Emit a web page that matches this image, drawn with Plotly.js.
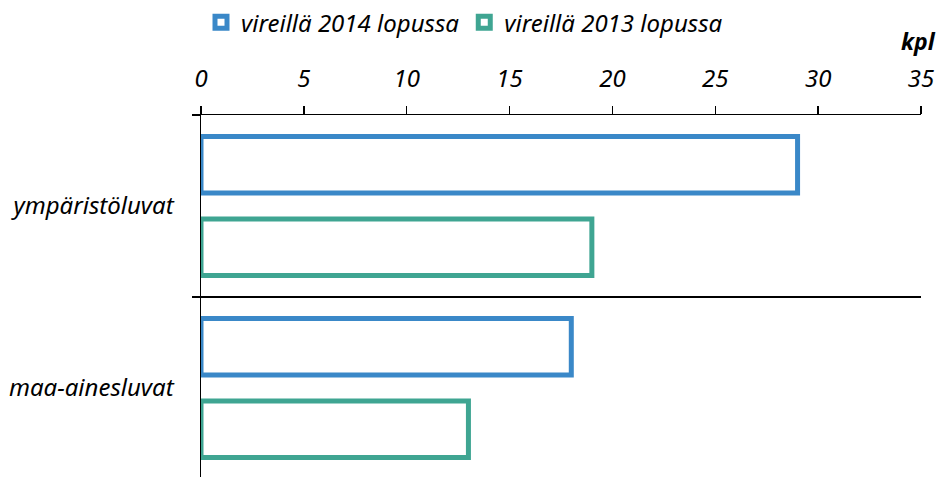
<!DOCTYPE html>
<html>
<head>
<meta charset="utf-8">
<script src="https://cdn.plot.ly/plotly-3.0.1.min.js"></script>
<style>html,body{margin:0;padding:0;background:#fff;}#chart{width:941px;height:477px;}</style>
</head>
<body>
<div id="chart"></div>
<script>
const categories = ['ympäristöluvat', 'maa-ainesluvat'];
const seriesNames = ['vireillä 2014 lopussa', 'vireillä 2013 lopussa'];
const values2014 = [29, 18];
const values2013 = [19, 13];
const tickValues = [0, 5, 10, 15, 20, 25, 30, 35];
const unitLabel = 'kpl';

const FONT = '"Noto Sans", "Open Sans", sans-serif';
const BLUE = '#3A88C8';
const TEAL = '#3FA592';
const FS = 24;

const traces = [
  {
    type: 'bar', orientation: 'h', name: seriesNames[0],
    y: categories, x: values2014,
    marker: { color: '#ffffff', line: { color: BLUE, width: 5 } },
    hoverinfo: 'x+y'
  },
  {
    type: 'bar', orientation: 'h', name: seriesNames[1],
    y: categories, x: values2013,
    marker: { color: '#ffffff', line: { color: TEAL, width: 5 } },
    hoverinfo: 'x+y'
  }
];

const layout = {
  width: 941, height: 477,
  margin: { l: 201, r: 20, t: 113, b: 0, pad: 0 },
  paper_bgcolor: '#ffffff', plot_bgcolor: '#ffffff',
  font: { family: FONT, size: FS, color: '#000000', style: 'italic' },
  barmode: 'group',
  bargap: 0.093,
  bargroupgap: 0.314,
  showlegend: true,
  legend: {
    orientation: 'h', x: 0, xanchor: 'left', y: 1.255, yanchor: 'middle',
    traceorder: 'normal',
    font: { family: FONT, size: FS, color: '#000000', style: 'italic' },
    bgcolor: 'rgba(0,0,0,0)'
  },
  xaxis: {
    side: 'top', range: [0, 35], tickvals: tickValues,
    ticks: 'outside', ticklen: 8, tickwidth: 1.5, tickcolor: '#000',
    showline: true, linecolor: '#000', linewidth: 1.5,
    showgrid: false, zeroline: false,
    ticklabelstandoff: 9,
    tickfont: { family: FONT, size: FS, color: '#000', style: 'italic' },
    fixedrange: true
  },
  yaxis: {
    type: 'category', range: [1.489, -0.5],
    tickson: 'boundaries',
    ticks: 'outside', ticklen: 8, tickwidth: 1.5, tickcolor: '#000',
    showline: true, linecolor: '#000', linewidth: 1.5,
    showgrid: true, gridcolor: '#000', gridwidth: 1.5,
    zeroline: false,
    ticklabelstandoff: 21,
    tickfont: { family: FONT, size: FS, color: '#000', style: 'italic' },
    fixedrange: true
  },
  annotations: [
    {
      text: unitLabel, xref: 'paper', yref: 'paper', x: 0.9972, y: 1.205,
      xanchor: 'center', yanchor: 'middle', showarrow: false,
      font: { family: FONT, size: 23, color: '#000', style: 'italic', weight: 'bold' }
    }
  ]
};

Plotly.newPlot('chart', traces, layout, { displayModeBar: false, staticPlot: true });
</script>
</body>
</html>
